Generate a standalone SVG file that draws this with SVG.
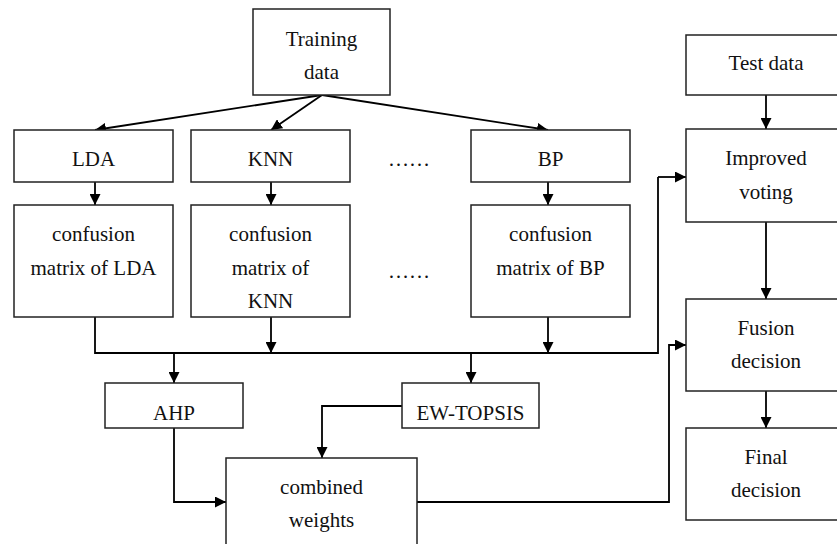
<svg xmlns="http://www.w3.org/2000/svg" width="837" height="544" viewBox="0 0 837 544">
<defs>
<marker id="ah" viewBox="0 0 10 10" refX="10" refY="5" markerWidth="11" markerHeight="11" markerUnits="userSpaceOnUse" orient="auto">
<path d="M0,0 L10,5 L0,10 Z" fill="#000"/>
</marker>
</defs>
<style>
.box{fill:#fff;stroke:#222;stroke-width:1.5}
.t{font-family:'Liberation Serif','DejaVu Serif',serif;font-size:21px;fill:#111;text-anchor:middle}
.c{fill:none;stroke:#000;stroke-width:1.8}
.a{fill:none;stroke:#000;stroke-width:1.8;marker-end:url(#ah)}
</style>
<rect width="837" height="544" fill="#fff"/>
<g id="connectors">
<path class="a" d="M322,95 L95,130"/>
<path class="a" d="M322,95 L271,130"/>
<path class="a" d="M322,95 L548,130"/>
<path class="a" d="M95,182 L95,205"/>
<path class="a" d="M271,182 L271,205"/>
<path class="a" d="M548,182 L548,205"/>
<path class="c" d="M95,317 L95,353 L658,353 L658,177"/>
<path class="a" d="M658,177 L686,177"/>
<path class="a" d="M271,317 L271,353"/>
<path class="a" d="M548,317 L548,353"/>
<path class="a" d="M174,353 L174,383"/>
<path class="a" d="M471,353 L471,383"/>
<path class="a" d="M402,406 L322,406 L322,458"/>
<path class="a" d="M174,428 L174,502 L226,502"/>
<path class="a" d="M417,502 L669,502 L669,345 L686,345"/>
<path class="a" d="M766,95 L766,129"/>
<path class="a" d="M766,222 L766,299"/>
<path class="a" d="M766,391 L766,428"/>
</g>
<g id="training"><rect class="box" x="253" y="9" width="137" height="86"/><text class="t" font-family="Liberation Serif, serif" x="321.5" y="46">Training</text><text class="t" font-family="Liberation Serif, serif" x="321.5" y="79">data</text></g>
<g id="lda"><rect class="box" x="14" y="130" width="159" height="52"/><text class="t" x="93.5" y="166">LDA</text></g>
<g id="knn"><rect class="box" x="191" y="130" width="159" height="52"/><text class="t" x="270.5" y="166">KNN</text></g>
<g id="ellipsis1"><text class="t" x="409" y="166">……</text></g>
<g id="bp"><rect class="box" x="471" y="130" width="159" height="52"/><text class="t" x="550.5" y="166">BP</text></g>
<g id="test"><rect class="box" x="686" y="35" width="160" height="60"/><text class="t" x="766" y="70">Test data</text></g>
<g id="improved"><rect class="box" x="686" y="129" width="160" height="93"/><text class="t" x="766" y="165">Improved</text><text class="t" x="766" y="199">voting</text></g>
<g id="cmlda"><rect class="box" x="14" y="205" width="159" height="112"/><text class="t" x="93.5" y="241">confusion</text><text class="t" x="93.5" y="275">matrix of LDA</text></g>
<g id="cmknn"><rect class="box" x="191" y="205" width="159" height="112"/><text class="t" x="270.5" y="241">confusion</text><text class="t" x="270.5" y="275">matrix of</text><text class="t" x="270.5" y="308">KNN</text></g>
<g id="ellipsis2"><text class="t" x="409" y="278">……</text></g>
<g id="cmbp"><rect class="box" x="471" y="205" width="159" height="112"/><text class="t" x="550.5" y="241">confusion</text><text class="t" x="550.5" y="275">matrix of BP</text></g>
<g id="fusion"><rect class="box" x="686" y="299" width="160" height="92"/><text class="t" x="766" y="335">Fusion</text><text class="t" x="766" y="368">decision</text></g>
<g id="ahp"><rect class="box" x="105" y="383" width="138" height="45"/><text class="t" x="174" y="420">AHP</text></g>
<g id="ewtopsis"><rect class="box" x="402" y="383" width="137" height="45"/><text class="t" x="470.5" y="420">EW-TOPSIS</text></g>
<g id="combined"><rect class="box" x="226" y="458" width="191" height="100"/><text class="t" x="321.5" y="494">combined</text><text class="t" x="321.5" y="527">weights</text></g>
<g id="final"><rect class="box" x="686" y="428" width="160" height="92"/><text class="t" x="766" y="464">Final</text><text class="t" x="766" y="497">decision</text></g>
</svg>
